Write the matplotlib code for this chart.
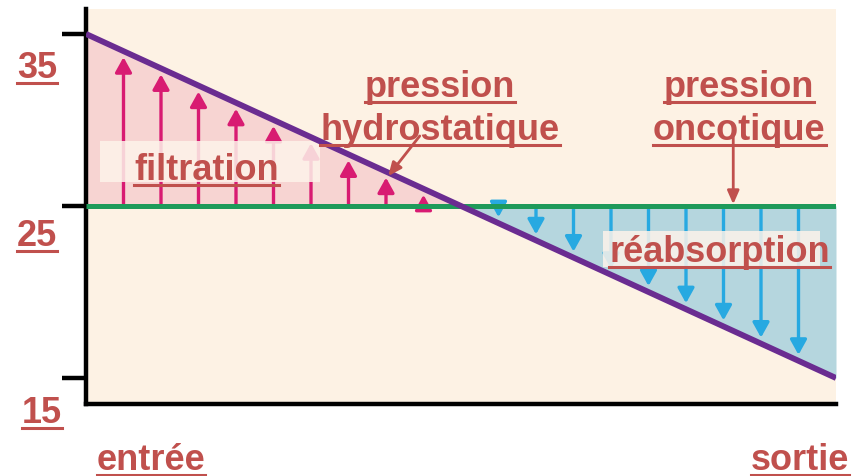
import matplotlib
matplotlib.use("Agg")
import matplotlib.pyplot as plt
from matplotlib.patches import Rectangle
from matplotlib.lines import Line2D

# pression hydrostatique (mmHg) le long du capillaire, de l'entrée (0) à la sortie (1)
hydro_x = [0.0, 1.0]
hydro_p = [35, 15]
# pression oncotique constante
onco_p = 25

# positions des flèches
filtration_x = [0.05, 0.10, 0.15, 0.20, 0.25, 0.30, 0.35, 0.40, 0.45]
reabsorption_x = [0.55, 0.60, 0.65, 0.70, 0.75, 0.80, 0.85, 0.90, 0.95]

yticks = [15, 25, 35]
ytick_labels = ["15", "25", "35"]

RED = "#C0504D"
PINK = "#D81B72"
BLUE = "#27A9E1"
FS = 26

plt.rcParams['font.family'] = ['Liberation Sans', 'DejaVu Sans']

fig = plt.figure(figsize=(8.64, 4.77), dpi=100)
ax = fig.add_axes([86/864, 1-405/477, 750/864, 395/477])
ax.set_xlim(0, 1)
ax.set_ylim(13.49, 36.45)
ax.set_facecolor("#FDF2E4")


def hydro(x):
    return hydro_p[0] + (hydro_p[1] - hydro_p[0]) * (x - hydro_x[0]) / (hydro_x[1] - hydro_x[0])


# zones de filtration / réabsorption
xs = [0.0, 0.5, 1.0]
hs = [hydro(v) for v in xs]
ax.fill_between(xs[:2], [onco_p]*2, hs[:2], color="#F7D4D2", lw=0, zorder=1)
ax.fill_between(xs[1:], [onco_p]*2, hs[1:], color="#B5D6DE", lw=0, zorder=1)

head = "-|>,head_length=0.9,head_width=0.5"
for x in filtration_x:
    ax.annotate("", xy=(x, hydro(x) - 0.35), xytext=(x, onco_p),
                arrowprops=dict(arrowstyle=head, color=PINK, lw=2.4,
                                shrinkA=0, shrinkB=0), zorder=2)
for x in reabsorption_x:
    ax.annotate("", xy=(x, hydro(x) + 0.35), xytext=(x, onco_p),
                arrowprops=dict(arrowstyle=head, color=BLUE, lw=2.4,
                                shrinkA=0, shrinkB=0), zorder=2)

ax.plot([0, 1], [onco_p, onco_p], color="#1E9A5A", lw=3.6, zorder=4, solid_capstyle="butt")
ax.plot(hydro_x, hydro_p, color="#6A2C91", lw=4.2, zorder=5, solid_capstyle="butt")

# cadres des étiquettes
ax.add_patch(Rectangle((0.019, 26.40), 0.293, 2.35, facecolor="#FDF3EA", alpha=0.85, lw=0, zorder=3))
ax.add_patch(Rectangle((0.689, 21.45), 0.29, 2.1, facecolor="#FDF3EA", alpha=0.85, lw=0, zorder=3))

texts = []
kw = dict(color=RED, fontsize=FS, fontweight="bold", ha="center", va="baseline", zorder=6)
texts.append(ax.text(0.161, 26.57, "filtration", **kw))
texts.append(ax.text(0.845, 21.8, "réabsorption", **kw))
texts.append(ax.text(0.472, 31.4, "pression", **kw))
texts.append(ax.text(0.472, 28.9, "hydrostatique", **kw))
texts.append(ax.text(0.871, 31.4, "pression", **kw))
texts.append(ax.text(0.871, 28.9, "oncotique", **kw))

ax.annotate("", xy=(0.403, 26.74), xytext=(0.445, 29.07),
            arrowprops=dict(arrowstyle="-|>,head_length=0.8,head_width=0.35",
                            color=RED, lw=2, shrinkA=0, shrinkB=0), zorder=6)
ax.annotate("", xy=(0.863, 25.1), xytext=(0.863, 29.07),
            arrowprops=dict(arrowstyle="-|>,head_length=0.8,head_width=0.35",
                            color=RED, lw=2, shrinkA=0, shrinkB=0), zorder=6)

# axes
for s in ["top", "right"]:
    ax.spines[s].set_visible(False)
for s in ["left", "bottom"]:
    ax.spines[s].set_linewidth(3.2)
ax.set_xticks([])
ax.set_yticks(yticks)
ax.set_yticklabels([])
ax.tick_params(axis="y", length=17, width=3.2, direction="out")

fkw = dict(color=RED, fontsize=FS, fontweight="bold", ha="center", va="baseline")
label_pos = {"35": (37, 78), "25": (37, 246), "15": (42, 423)}
for lab in ytick_labels:
    px, py = label_pos[lab]
    texts.append(fig.text(px/864, 1-py/477, lab, **fkw))
texts.append(fig.text(151/864, 1-470/477, "entrée", **fkw))
texts.append(fig.text(800/864, 1-470/477, "sortie", **fkw))

# soulignement
fig.canvas.draw()
r = fig.canvas.get_renderer()
inv = fig.transFigure.inverted()
for t in texts:
    bb = t.get_window_extent(r)
    bx, by = t.get_transform().transform(t.get_position())
    y = by - 6
    (x0, y0), (x1, _) = inv.transform([(bb.x0, y), (bb.x1, y)])
    fig.add_artist(Line2D([x0, x1], [y0, y0], color=RED, lw=2.2, zorder=7))

fig.savefig("out.png", dpi=100, facecolor="white")
